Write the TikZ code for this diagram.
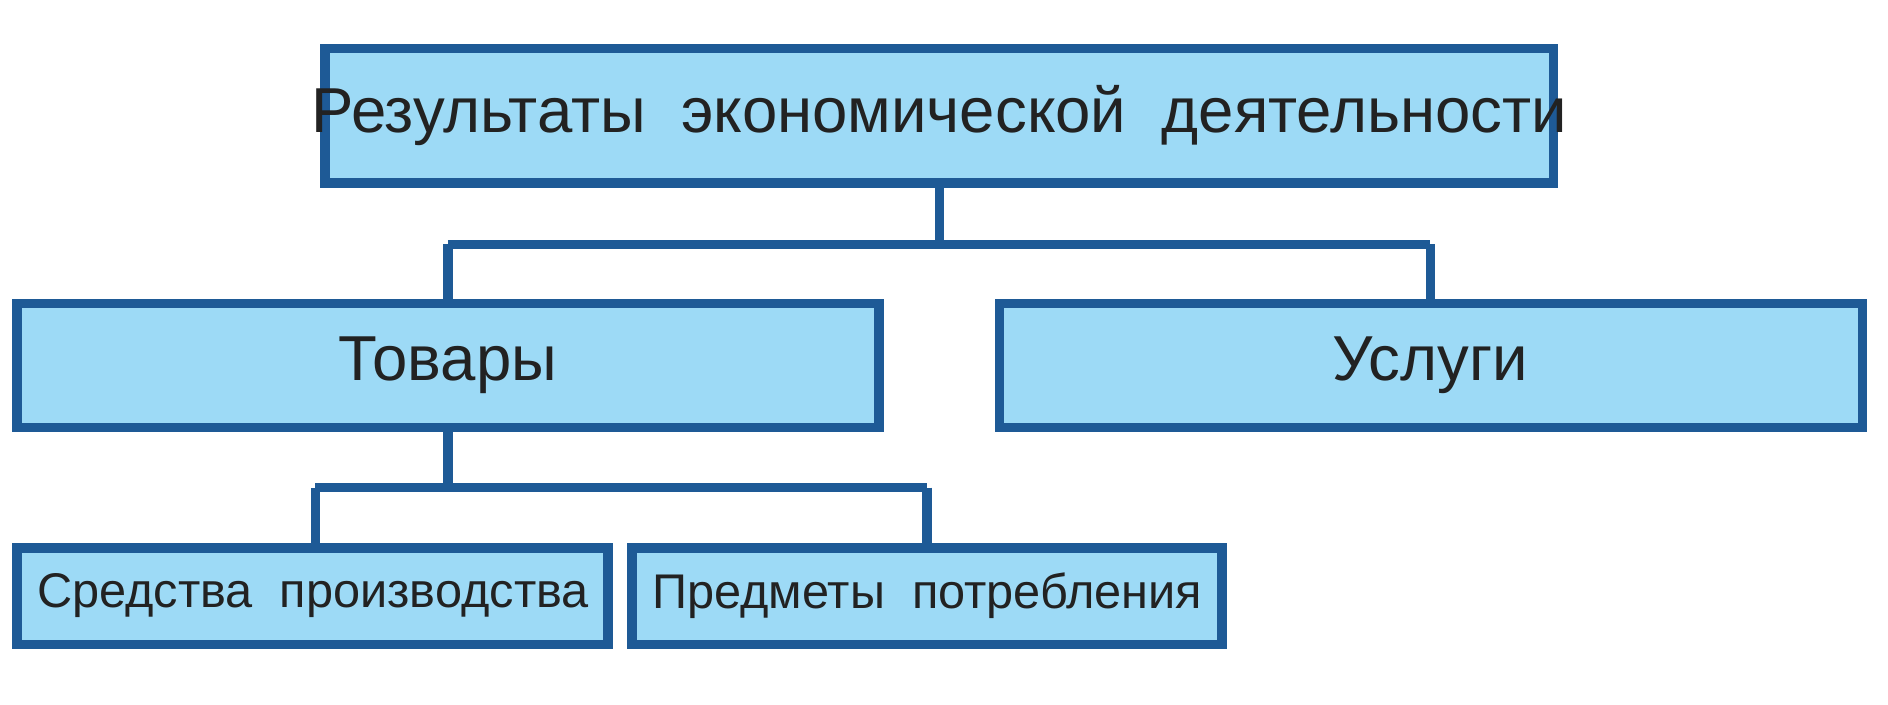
\documentclass[tikz,border=0pt]{standalone}
\usepackage{fontspec}
\setmainfont{Liberation Sans}
\definecolor{boxfill}{HTML}{9DDAF6}
\definecolor{boxline}{HTML}{1E5A96}
\definecolor{txt}{HTML}{222222}
\begin{document}
\begin{tikzpicture}[x=0.01cm,y=-0.01cm,
  bx/.style={draw=boxline,line width=2.2pt,fill=boxfill},
  ln/.style={draw=boxline,line width=2.2pt},
  lab/.style={text=txt,font=\fontsize{15}{18}\selectfont}]
\useasboundingbox (0,0) rectangle (1568,585);
\fill[white] (0,0) rectangle (1568,585);
\draw[bx] (270,40) rectangle (1290,152);
\node[lab] (top) at (780,96) {Результаты \ экономической \ деятельности};
\draw[bx] (14,252) rectangle (730,355);
\node[lab] (tov) at (372,303) {Товары};
\draw[bx] (830,252) rectangle (1547,355);
\node[lab] (usl) at (1188,303) {Услуги};
\draw[bx] (14,455) rectangle (505,535);
\node[lab,font=\fontsize{11.5}{14}\selectfont] (sp) at (260,495) {Средства \ производства};
\draw[bx] (525,455) rectangle (1015,535);
\node[lab,font=\fontsize{11.5}{14}\selectfont] (pp) at (770,495) {Предметы \ потребления};
\coordinate (a) at (780,152);
\draw[ln] (a) -- (780,203) (372,203) -- (1188,203) (372,203) -- (372,252) (1188,203) -- (1188,252);
\draw[ln] (372,355) -- (372,405) (262,405) -- (770,405) (262,405) -- (262,455) (770,405) -- (770,455);
\end{tikzpicture}
\end{document}
